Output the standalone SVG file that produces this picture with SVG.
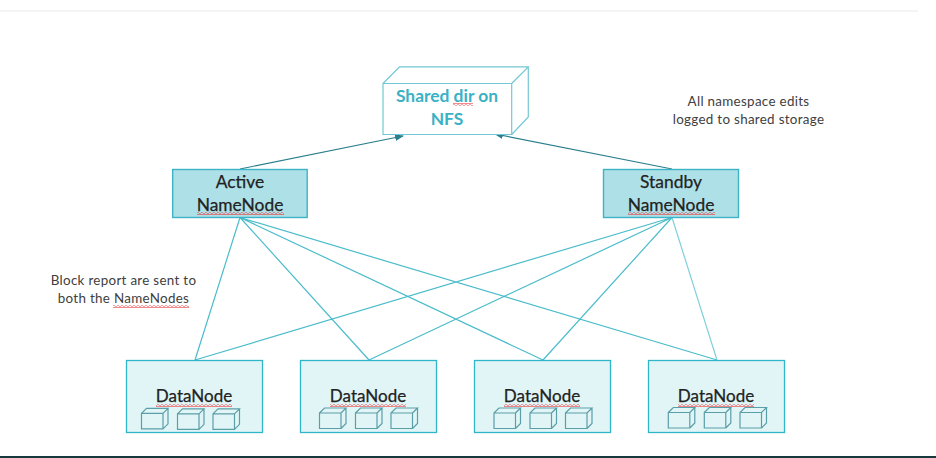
<svg xmlns="http://www.w3.org/2000/svg" width="936" height="458" viewBox="0 0 936 458">
<style>
text{font-family:Lato,"Liberation Sans",sans-serif;text-anchor:middle}
.nn{fill:#aee1e7;stroke:#3cb4c6;stroke-width:1.4}
.dn{fill:#e1f5f7;stroke:#31b5c8;stroke-width:1.3}
.t{font-size:17.4px;fill:#222;stroke:#222;stroke-width:.25}
.d{font-size:17px}
.s{font-size:13.4px;letter-spacing:.3px;fill:#404040}
.h{font-size:17.4px;fill:#3ab1c4;font-weight:700}
.l{stroke:#4bbccb;stroke-width:1.2;fill:none}
.a{stroke:#2a7f8d;stroke-width:1.2;fill:none;marker-end:url(#ah)}
.cube{fill:#e1f5f7;stroke:#5a9ea8;stroke-width:1.2}
.box{fill:#fff;stroke:#72c8d4;stroke-width:1.2}
.sq{fill:url(#wave)}
</style>
<defs>
<marker id="ah" markerWidth="9" markerHeight="7" refX="8" refY="3.5" orient="auto" markerUnits="userSpaceOnUse"><path d="M0 0L9 3.500L0 7z" fill="#2a7f8d"/></marker>
<pattern id="wave" width="4" height="3" patternUnits="userSpaceOnUse"><path d="M0 .6L2 2.400L4 .6" fill="none" stroke="#f0282d" stroke-width="1"/></pattern>
<g id="cube"><path class="cube" d="M0 5H21.500V20.500H0zM0 5L5 0H26.500L21.500 5M26.500 0V15.500L21.500 20.500"/></g>
</defs>
<rect x="0" y="10" width="918" height="2" fill="#f4f4f4"/>
<rect x="0" y="456" width="936" height="2" fill="#17393d"/>
<g id="connectors">
<path class="l" d="M240 217.500L195 360M240 217.500L369 360M240 217.500L543 360M240 217.500L717 360M672 217.500L195 360M672 217.500L369 360M672 217.500L543 360"/>
<path class="l" style="stroke:#7fd0da" d="M672 217.500L717 360"/>
<path class="a" d="M240 169L403 136"/>
<path class="a" d="M672 169L495 134"/>
</g>
<g id="shared-dir">
<path class="box" d="M383 83.500H511.700V134.500H383zM383 83.500L399.500 66.800H528.300L511.700 83.500M528.300 66.800V117L511.700 134.500"/>
<text class="h" x="447" y="102">Shared dir on</text>
<text class="h" x="447" y="125">NFS</text>
<rect class="sq" x="453" y="103" width="20" height="3"/>
</g>
<g id="active-namenode">
<rect class="nn" x="172.700" y="169.500" width="134.500" height="48"/>
<text class="t" x="240" y="187.500">Active</text>
<text class="t" x="240" y="211">NameNode</text>
<rect class="sq" x="197" y="212" width="87" height="3"/>
</g>
<g id="standby-namenode">
<rect class="nn" x="603.500" y="169.500" width="135" height="48"/>
<text class="t" x="671" y="187.500">Standby</text>
<text class="t" x="671" y="211">NameNode</text>
<rect class="sq" x="628" y="212" width="87" height="3"/>
</g>
<g id="note-edits">
<text class="s" x="748.500" y="106">All namespace edits</text>
<text class="s" x="748.500" y="124">logged to shared storage</text>
</g>
<g id="note-block">
<text class="s" x="123.500" y="285">Block report are sent to</text>
<text class="s" x="123.500" y="303">both the NameNodes</text>
<rect class="sq" x="113" y="305" width="76" height="3"/>
</g>
<g id="datanode-1">
<rect class="dn" x="126.500" y="360.500" width="136" height="72"/>
<text class="t d" x="194" y="402">DataNode</text>
<rect class="sq" x="156" y="404" width="76" height="3"/>
<use href="#cube" x="141.500" y="408.300"/><use href="#cube" x="177.500" y="408.800"/><use href="#cube" x="213" y="408.800"/>
</g>
<g id="datanode-2">
<rect class="dn" x="300.500" y="360.500" width="136" height="72"/>
<text class="t d" x="368" y="402">DataNode</text>
<rect class="sq" x="330" y="404" width="76" height="3"/>
<use href="#cube" x="319.500" y="408"/><use href="#cube" x="355.500" y="408"/><use href="#cube" x="391" y="408"/>
</g>
<g id="datanode-3">
<rect class="dn" x="474.500" y="360.500" width="136" height="72"/>
<text class="t d" x="542" y="402">DataNode</text>
<rect class="sq" x="504" y="404" width="76" height="3"/>
<use href="#cube" x="494" y="408"/><use href="#cube" x="530" y="408"/><use href="#cube" x="565.500" y="408"/>
</g>
<g id="datanode-4">
<rect class="dn" x="648.500" y="360.500" width="136" height="72"/>
<text class="t d" x="716" y="402">DataNode</text>
<rect class="sq" x="678" y="404" width="76" height="3"/>
<use href="#cube" x="668.300" y="407.500"/><use href="#cube" x="704.300" y="407.500"/><use href="#cube" x="740" y="407.500"/>
</g>
</svg>
